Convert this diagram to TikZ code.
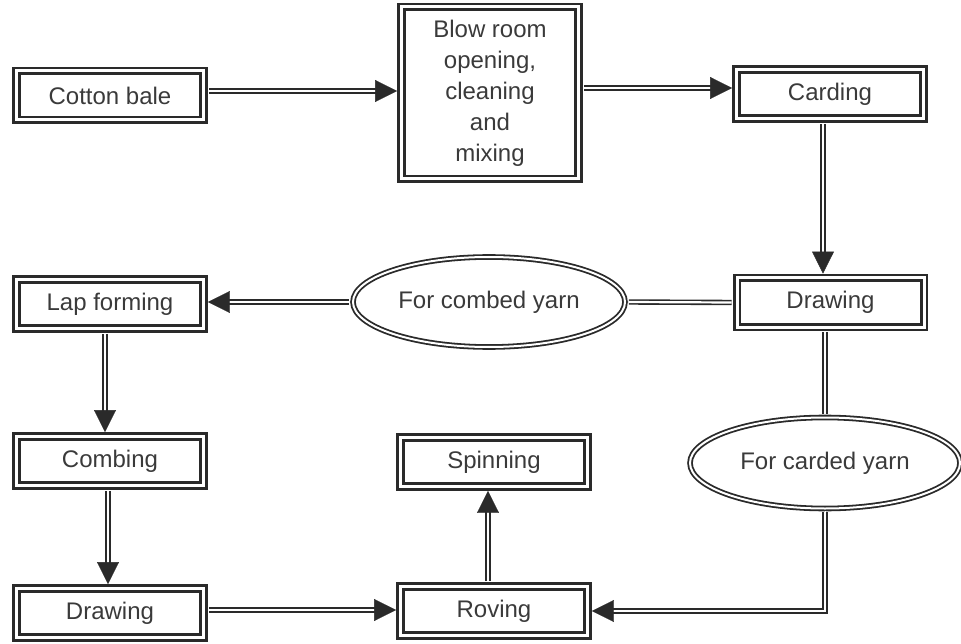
\documentclass[tikz,border=0pt]{standalone}
\usepackage{fontspec}
\setmainfont{Liberation Sans}
\usetikzlibrary{arrows.meta,shapes.geometric}
\definecolor{dg}{HTML}{2A2A2A}
\definecolor{tg}{HTML}{3A3A3A}
\tikzset{
  box/.style={rectangle, draw=dg, double=white, line width=2.9pt, double distance=3pt,
    minimum width=187pt, minimum height=49pt, inner sep=0pt, outer sep=4.4pt,
    text=tg, font=\fontsize{24}{31}\selectfont, align=center},
  oval/.style={ellipse, draw=dg, double=white, line width=1.8pt, double distance=2pt,
    inner sep=0pt, outer sep=2.8pt, text=tg, font=\fontsize{24}{31}\selectfont},
  dline/.style={draw=dg, double=white, line width=1.6pt, double distance=2.2pt,
    shorten <=1pt, shorten >=1pt},
  arrowline/.style={draw=white, line width=0.4pt,
    -{Triangle[length=22pt,width=22pt,color=dg]},
    preaction={draw=dg, double=white, line width=1.6pt, double distance=2.2pt, -,
      shorten <=1pt, shorten >=12pt}},
}
\begin{document}
\begin{tikzpicture}[x=1pt,y=-1pt]
\useasboundingbox (0,0) rectangle (961,644);
% nodes
\node[box] (cotton) at (110,95.5) {Cotton bale};
\node[box, minimum width=177pt, minimum height=172pt] (blow) at (490,93)
  {Blow room\\opening,\\cleaning\\and\\mixing};
\node[box] (carding) at (830,94) {Carding};
\node[box] (drawR) at (830.5,302.5) {Drawing};
\node[oval, minimum width=272pt, minimum height=90pt] (combed) at (489,302) {For combed yarn};
\node[box] (lap) at (110,304) {Lap forming};
\node[box] (combing) at (110,461) {Combing};
\node[box] (drawL) at (110,613) {Drawing};
\node[box] (spinning) at (494,462) {Spinning};
\node[box] (roving) at (494,611) {Roving};
\node[oval, minimum width=270pt, minimum height=91pt] (carded) at (825,463) {For carded yarn};
% connectors
\draw[arrowline] (cotton.east |- 0,91) -- (blow.west |- 0,91);
\draw[arrowline] (blow.east |- 0,88) -- (carding.west |- 0,88);
\draw[arrowline] (carding.south -| 823,0) -- (drawR.north -| 823,0);
\draw[dline] (drawR.west) -- (combed.east);
\draw[arrowline] (combed.west) -- (lap.east |- combed.west);
\draw[arrowline] (lap.south -| 105,0) -- (combing.north -| 105,0);
\draw[arrowline] (combing.south -| 108,0) -- (drawL.north -| 108,0);
\draw[arrowline] (drawL.east |- 0,610) -- (roving.west |- 0,610);
\draw[arrowline] (roving.north -| 488,0) -- (spinning.south -| 488,0);
\draw[dline] (drawR.south -| carded.north) -- (carded.north);
\draw[arrowline] (carded.south) |- (roving.east);
\end{tikzpicture}
\end{document}
